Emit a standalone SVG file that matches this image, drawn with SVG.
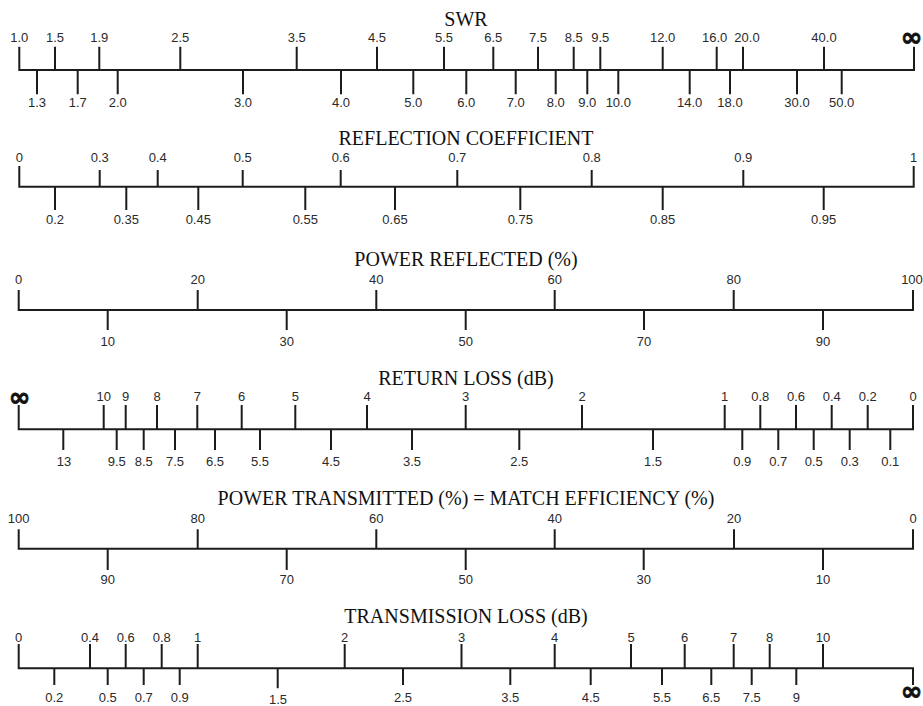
<svg xmlns="http://www.w3.org/2000/svg" width="923" height="706" viewBox="0 0 923 706">
<style>
.ax{fill:none;stroke:#1c1c1c;stroke-width:2;stroke-linejoin:miter;stroke-linecap:butt}
.tk{fill:none;stroke:#1c1c1c;stroke-width:2}
.t{font-family:"Liberation Serif",serif;font-size:20px;fill:#111;text-anchor:middle}
.n{font-family:"Liberation Sans",Arial,sans-serif;font-size:13px;fill:#2a2a2a;text-anchor:middle}
.inf{font-family:"DejaVu Sans",sans-serif;font-weight:bold;font-size:26px;fill:#111;stroke:#111;stroke-width:0.8;text-anchor:middle}
</style>
<rect width="923" height="706" fill="#fff"/>

<g id="swr">
<text class="t" x="466" y="26">SWR</text>
<path class="ax" d="M19.3,46.7V70H914V46.7"/>
<path class="tk" d="M55,46.7V70M99.3,46.7V70M180.3,46.7V70M296.7,46.7V70M377,46.7V70M444,46.7V70M493.3,46.7V70M538,46.7V70M573.7,46.7V70M600.3,46.7V70M662.7,46.7V70M716.7,46.7V70M743,46.7V70M824,46.7V70
M37,70V94.3M77.7,70V94.3M117.7,70V94.3M243,70V94.3M341,70V94.3M413.3,70V94.3M466.3,70V94.3M515.7,70V94.3M555.7,70V94.3M587.3,70V94.3M618.3,70V94.3M689.7,70V94.3M730,70V94.3M797,70V94.3M841.7,70V94.3"/>
<g class="n">
<text x="19.3" y="41.7">1.0</text><text x="55" y="41.7">1.5</text><text x="99.3" y="41.7">1.9</text><text x="180.3" y="41.7">2.5</text><text x="296.7" y="41.7">3.5</text><text x="377" y="41.7">4.5</text><text x="444" y="41.7">5.5</text><text x="493.3" y="41.7">6.5</text><text x="538" y="41.7">7.5</text><text x="573.7" y="41.7">8.5</text><text x="600.3" y="41.7">9.5</text><text x="662.7" y="41.7">12.0</text><text x="714.7" y="41.7">16.0</text><text x="747" y="41.7">20.0</text><text x="824" y="41.7">40.0</text>
<text x="37" y="106.7">1.3</text><text x="77.7" y="106.7">1.7</text><text x="117.7" y="106.7">2.0</text><text x="243" y="106.7">3.0</text><text x="341" y="106.7">4.0</text><text x="413.3" y="106.7">5.0</text><text x="466.3" y="106.7">6.0</text><text x="515.7" y="106.7">7.0</text><text x="555.7" y="106.7">8.0</text><text x="587.3" y="106.7">9.0</text><text x="618.3" y="106.7">10.0</text><text x="689.7" y="106.7">14.0</text><text x="730" y="106.7">18.0</text><text x="797" y="106.7">30.0</text><text x="841.7" y="106.7">50.0</text>
</g>
<text class="inf" x="911.5" y="46">∞</text>
</g>

<g id="reflection-coefficient">
<text class="t" x="466" y="145">REFLECTION COEFFICIENT</text>
<path class="ax" d="M19.3,166V186.7H913.7V166"/>
<path class="tk" d="M99.7,170V186.7M157.7,170V186.7M242.7,170V186.7M340.7,170V186.7M457.3,170V186.7M591.7,170V186.7M743.3,170V186.7
M55,186.7V210M126.3,186.7V210M198.3,186.7V210M305.3,186.7V210M395,186.7V210M520.3,186.7V210M662.7,186.7V210M823.7,186.7V210"/>
<g class="n">
<text x="19.3" y="161.7">0</text><text x="99.7" y="161.7">0.3</text><text x="157.7" y="161.7">0.4</text><text x="242.7" y="161.7">0.5</text><text x="340.7" y="161.7">0.6</text><text x="457.3" y="161.7">0.7</text><text x="591.7" y="161.7">0.8</text><text x="743.3" y="161.7">0.9</text><text x="913.7" y="161.7">1</text>
<text x="55" y="224.3">0.2</text><text x="126.3" y="224.3">0.35</text><text x="198.3" y="224.3">0.45</text><text x="305.3" y="224.3">0.55</text><text x="395" y="224.3">0.65</text><text x="520.3" y="224.3">0.75</text><text x="662.7" y="224.3">0.85</text><text x="823.7" y="224.3">0.95</text>
</g>
</g>

<g id="power-reflected">
<text class="t" x="466" y="266">POWER REFLECTED (%)</text>
<path class="ax" d="M18.7,290V310H913V290"/>
<path class="tk" d="M197.7,290V310M376.3,290V310M554.7,290V310M733.7,290V310
M107.7,310V330M286.7,310V330M465.7,310V330M644,310V330M823,310V330"/>
<g class="n">
<text x="18.7" y="284.3">0</text><text x="197.7" y="284.3">20</text><text x="376.3" y="284.3">40</text><text x="554.7" y="284.3">60</text><text x="733.7" y="284.3">80</text><text x="912" y="284.3">100</text>
<text x="107.7" y="345.7">10</text><text x="286.7" y="345.7">30</text><text x="465.7" y="345.7">50</text><text x="644" y="345.7">70</text><text x="823" y="345.7">90</text>
</g>
</g>

<g id="return-loss">
<text class="t" x="466" y="385">RETURN LOSS (dB)</text>
<path class="ax" d="M18.7,405V429.3H913V405"/>
<path class="tk" d="M103.7,405V429.3M125.7,405V429.3M157,405V429.3M197.3,405V429.3M241.7,405V429.3M295.3,405V429.3M367,405V429.3M465.7,405V429.3M582,405V429.3M724.7,405V429.3M760.3,405V429.3M796,405V429.3M831.7,405V429.3M867.7,405V429.3
M63.3,429.3V450M116.7,429.3V450M143.7,429.3V450M175,429.3V450M215,429.3V450M260,429.3V450M331,429.3V450M412,429.3V450M519.3,429.3V450M653,429.3V450M742.3,429.3V450M778.3,429.3V450M813.7,429.3V450M849.7,429.3V450M890.3,429.3V450"/>
<g class="n">
<text x="103.7" y="400.7">10</text><text x="125.7" y="400.7">9</text><text x="157" y="400.7">8</text><text x="197.3" y="400.7">7</text><text x="241.7" y="400.7">6</text><text x="295.3" y="400.7">5</text><text x="367" y="400.7">4</text><text x="465.7" y="400.7">3</text><text x="582" y="400.7">2</text><text x="724.7" y="400.7">1</text><text x="760.3" y="400.7">0.8</text><text x="796" y="400.7">0.6</text><text x="831.7" y="400.7">0.4</text><text x="867.7" y="400.7">0.2</text><text x="913" y="400.7">0</text>
<text x="64" y="465.7">13</text><text x="116.7" y="465.7">9.5</text><text x="143.7" y="465.7">8.5</text><text x="175" y="465.7">7.5</text><text x="215" y="465.7">6.5</text><text x="260" y="465.7">5.5</text><text x="331" y="465.7">4.5</text><text x="412" y="465.7">3.5</text><text x="519.3" y="465.7">2.5</text><text x="653" y="465.7">1.5</text><text x="742.3" y="465.7">0.9</text><text x="778.3" y="465.7">0.7</text><text x="813.7" y="465.7">0.5</text><text x="849.7" y="465.7">0.3</text><text x="890.3" y="465.7">0.1</text>
</g>
<text class="inf" x="19.5" y="406">∞</text>
</g>

<g id="power-transmitted">
<text class="t" x="466" y="505">POWER TRANSMITTED (%) = MATCH EFFICIENCY (%)</text>
<path class="ax" d="M18.7,529.3V548.7H913V529.3"/>
<path class="tk" d="M197.7,529.3V548.7M376.3,529.3V548.7M554.7,529.3V548.7M734,529.3V548.7
M107.7,548.7V570M286.7,548.7V570M465.7,548.7V570M643.7,548.7V570M823,548.7V570"/>
<g class="n">
<text x="18.7" y="522.7">100</text><text x="197.7" y="522.7">80</text><text x="376.3" y="522.7">60</text><text x="554.7" y="522.7">40</text><text x="734" y="522.7">20</text><text x="913" y="522.7">0</text>
<text x="107.7" y="584.3">90</text><text x="286.7" y="584.3">70</text><text x="465.7" y="584.3">50</text><text x="643.7" y="584.3">30</text><text x="823" y="584.3">10</text>
</g>
</g>

<g id="transmission-loss">
<text class="t" x="466" y="623.3">TRANSMISSION LOSS (dB)</text>
<path class="ax" d="M18.7,644V668.3H913V685"/>
<path class="tk" d="M90,644V668.3M125.7,644V668.3M161.7,644V668.3M197.7,644V668.3M344.7,644V668.3M461.5,644V668.3M554.7,644V668.3M631,644V668.3M684.7,644V668.3M733.7,644V668.3M769.7,644V668.3M823,644V668.3
M54.3,668.3V685M107.7,668.3V685M143.7,668.3V685M179.7,668.3V685M277.7,668.3V688.3M403,668.3V685M510.3,668.3V685M590.7,668.3V685M662,668.3V685M711.3,668.3V685M751.7,668.3V685M796.3,668.3V685"/>
<g class="n">
<text x="18.7" y="641.7">0</text><text x="90" y="641.7">0.4</text><text x="125.7" y="641.7">0.6</text><text x="161.7" y="641.7">0.8</text><text x="197.7" y="641.7">1</text><text x="344.7" y="641.7">2</text><text x="461.5" y="641.7">3</text><text x="554.7" y="641.7">4</text><text x="631" y="641.7">5</text><text x="684.7" y="641.7">6</text><text x="733.7" y="641.7">7</text><text x="769.7" y="641.7">8</text><text x="823" y="641.7">10</text>
<text x="54.3" y="701.7">0.2</text><text x="107.7" y="701.7">0.5</text><text x="143.7" y="701.7">0.7</text><text x="179.7" y="701.7">0.9</text><text x="278" y="703.5">1.5</text><text x="403" y="701.7">2.5</text><text x="510.3" y="701.7">3.5</text><text x="590.7" y="701.7">4.5</text><text x="662" y="701.7">5.5</text><text x="711.3" y="701.7">6.5</text><text x="751.7" y="701.7">7.5</text><text x="796.3" y="701.7">9</text>
</g>
<text class="inf" x="911.5" y="700">∞</text>
</g>
</svg>
